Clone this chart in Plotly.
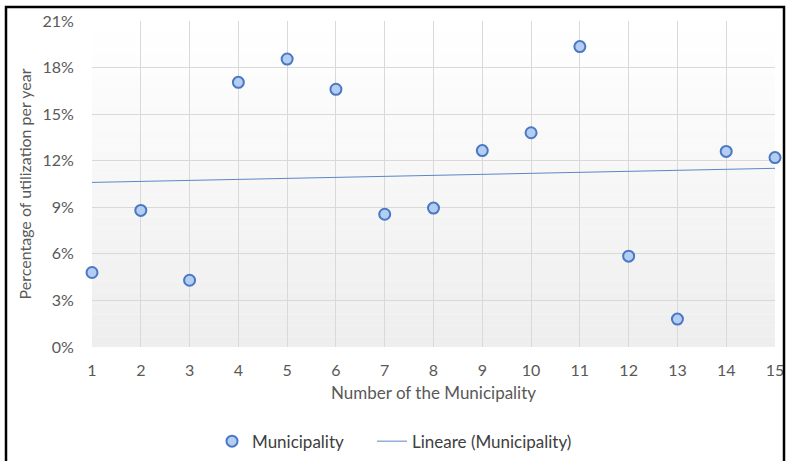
import numpy as np
import plotly.graph_objects as go

municipality = list(range(1, 16))
utilization = [4.8, 8.8, 4.3, 17.05, 18.55, 16.6, 8.55, 8.95, 12.65, 13.8, 19.35, 5.85, 1.8, 12.6, 12.2]
y_ticks = [0, 3, 6, 9, 12, 15, 18, 21]
y_tick_labels = [f"{v}%" for v in y_ticks]

W, H = 786, 461
L, R, T, B = 92, 11, 21, 114
PW = W - L - R

slope, intercept = np.polyfit(municipality, utilization, 1)
trend_x = [municipality[0], municipality[-1]]
trend_y = [intercept + slope * x for x in trend_x]

fig = go.Figure()
fig.add_trace(go.Scatter(
    x=municipality, y=utilization, mode="markers", name="Municipality",
    cliponaxis=False, legend="legend",
    marker=dict(size=11, color="#b4cdf3", line=dict(color="#4a78c2", width=2)),
))
fig.add_trace(go.Scatter(
    x=trend_x, y=trend_y, mode="lines", name="Lineare (Municipality)",
    legend="legend2",
    line=dict(color="#5b87c9", width=1),
))

# background gradient bands
shapes = []
n = 30
for i in range(n):
    f = i / (n - 1)
    c = int(round(255 - 17 * f))
    shapes.append(dict(type="rect", xref="x domain", yref="y domain",
                       x0=0, x1=1, y0=1 - (i + 1) / n, y1=1 - i / n,
                       fillcolor=f"rgb({c},{c},{c})", line=dict(width=0), layer="below"))
# outer border
shapes.append(dict(type="rect", xref="paper", yref="paper",
                   x0=-(L - 6) / PW, x1=1 + (R - 2) / PW,
                   y0=-(B + 5) / (H - T - B), y1=1 + (T - 7) / (H - T - B),
                   line=dict(color="black", width=2.5), fillcolor="rgba(0,0,0,0)", layer="above"))

legend_common = dict(orientation="h", xanchor="left", y=-0.235, yanchor="top",
                     bgcolor="rgba(0,0,0,0)", font=dict(size=17, color="#404040"), itemwidth=30)

fig.update_layout(
    width=W, height=H,
    margin=dict(l=L, r=R, t=T, b=B, autoexpand=False),
    paper_bgcolor="white", plot_bgcolor="white",
    font=dict(family="Lato, Open Sans, sans-serif", color="#595959", size=16),
    shapes=shapes,
    showlegend=True,
    legend=dict(x=(212 - L) / PW, **legend_common),
    legend2=dict(x=(372 - L) / PW, **legend_common),
    xaxis=dict(range=[1, 15], tickvals=municipality, showgrid=True, gridcolor="#d9d9d9",
               zeroline=False, showline=False, ticks="outside", ticklen=9,
               tickcolor="rgba(0,0,0,0)", automargin=False,
               title=dict(text="Number of the Municipality", standoff=8, font=dict(size=17))),
    yaxis=dict(range=[0, 21], tickvals=y_ticks, ticktext=y_tick_labels, showgrid=True,
               gridcolor="#d9d9d9", zeroline=False, showline=False, ticks="outside", ticklen=14,
               tickcolor="rgba(0,0,0,0)", automargin=False,
               title=dict(text="Percentage of utilization per year", standoff=6, font=dict(size=16))),
)

fig.write_html("out.html", config={"displayModeBar": False},
               post_script="document.body.style.margin='0px';")
